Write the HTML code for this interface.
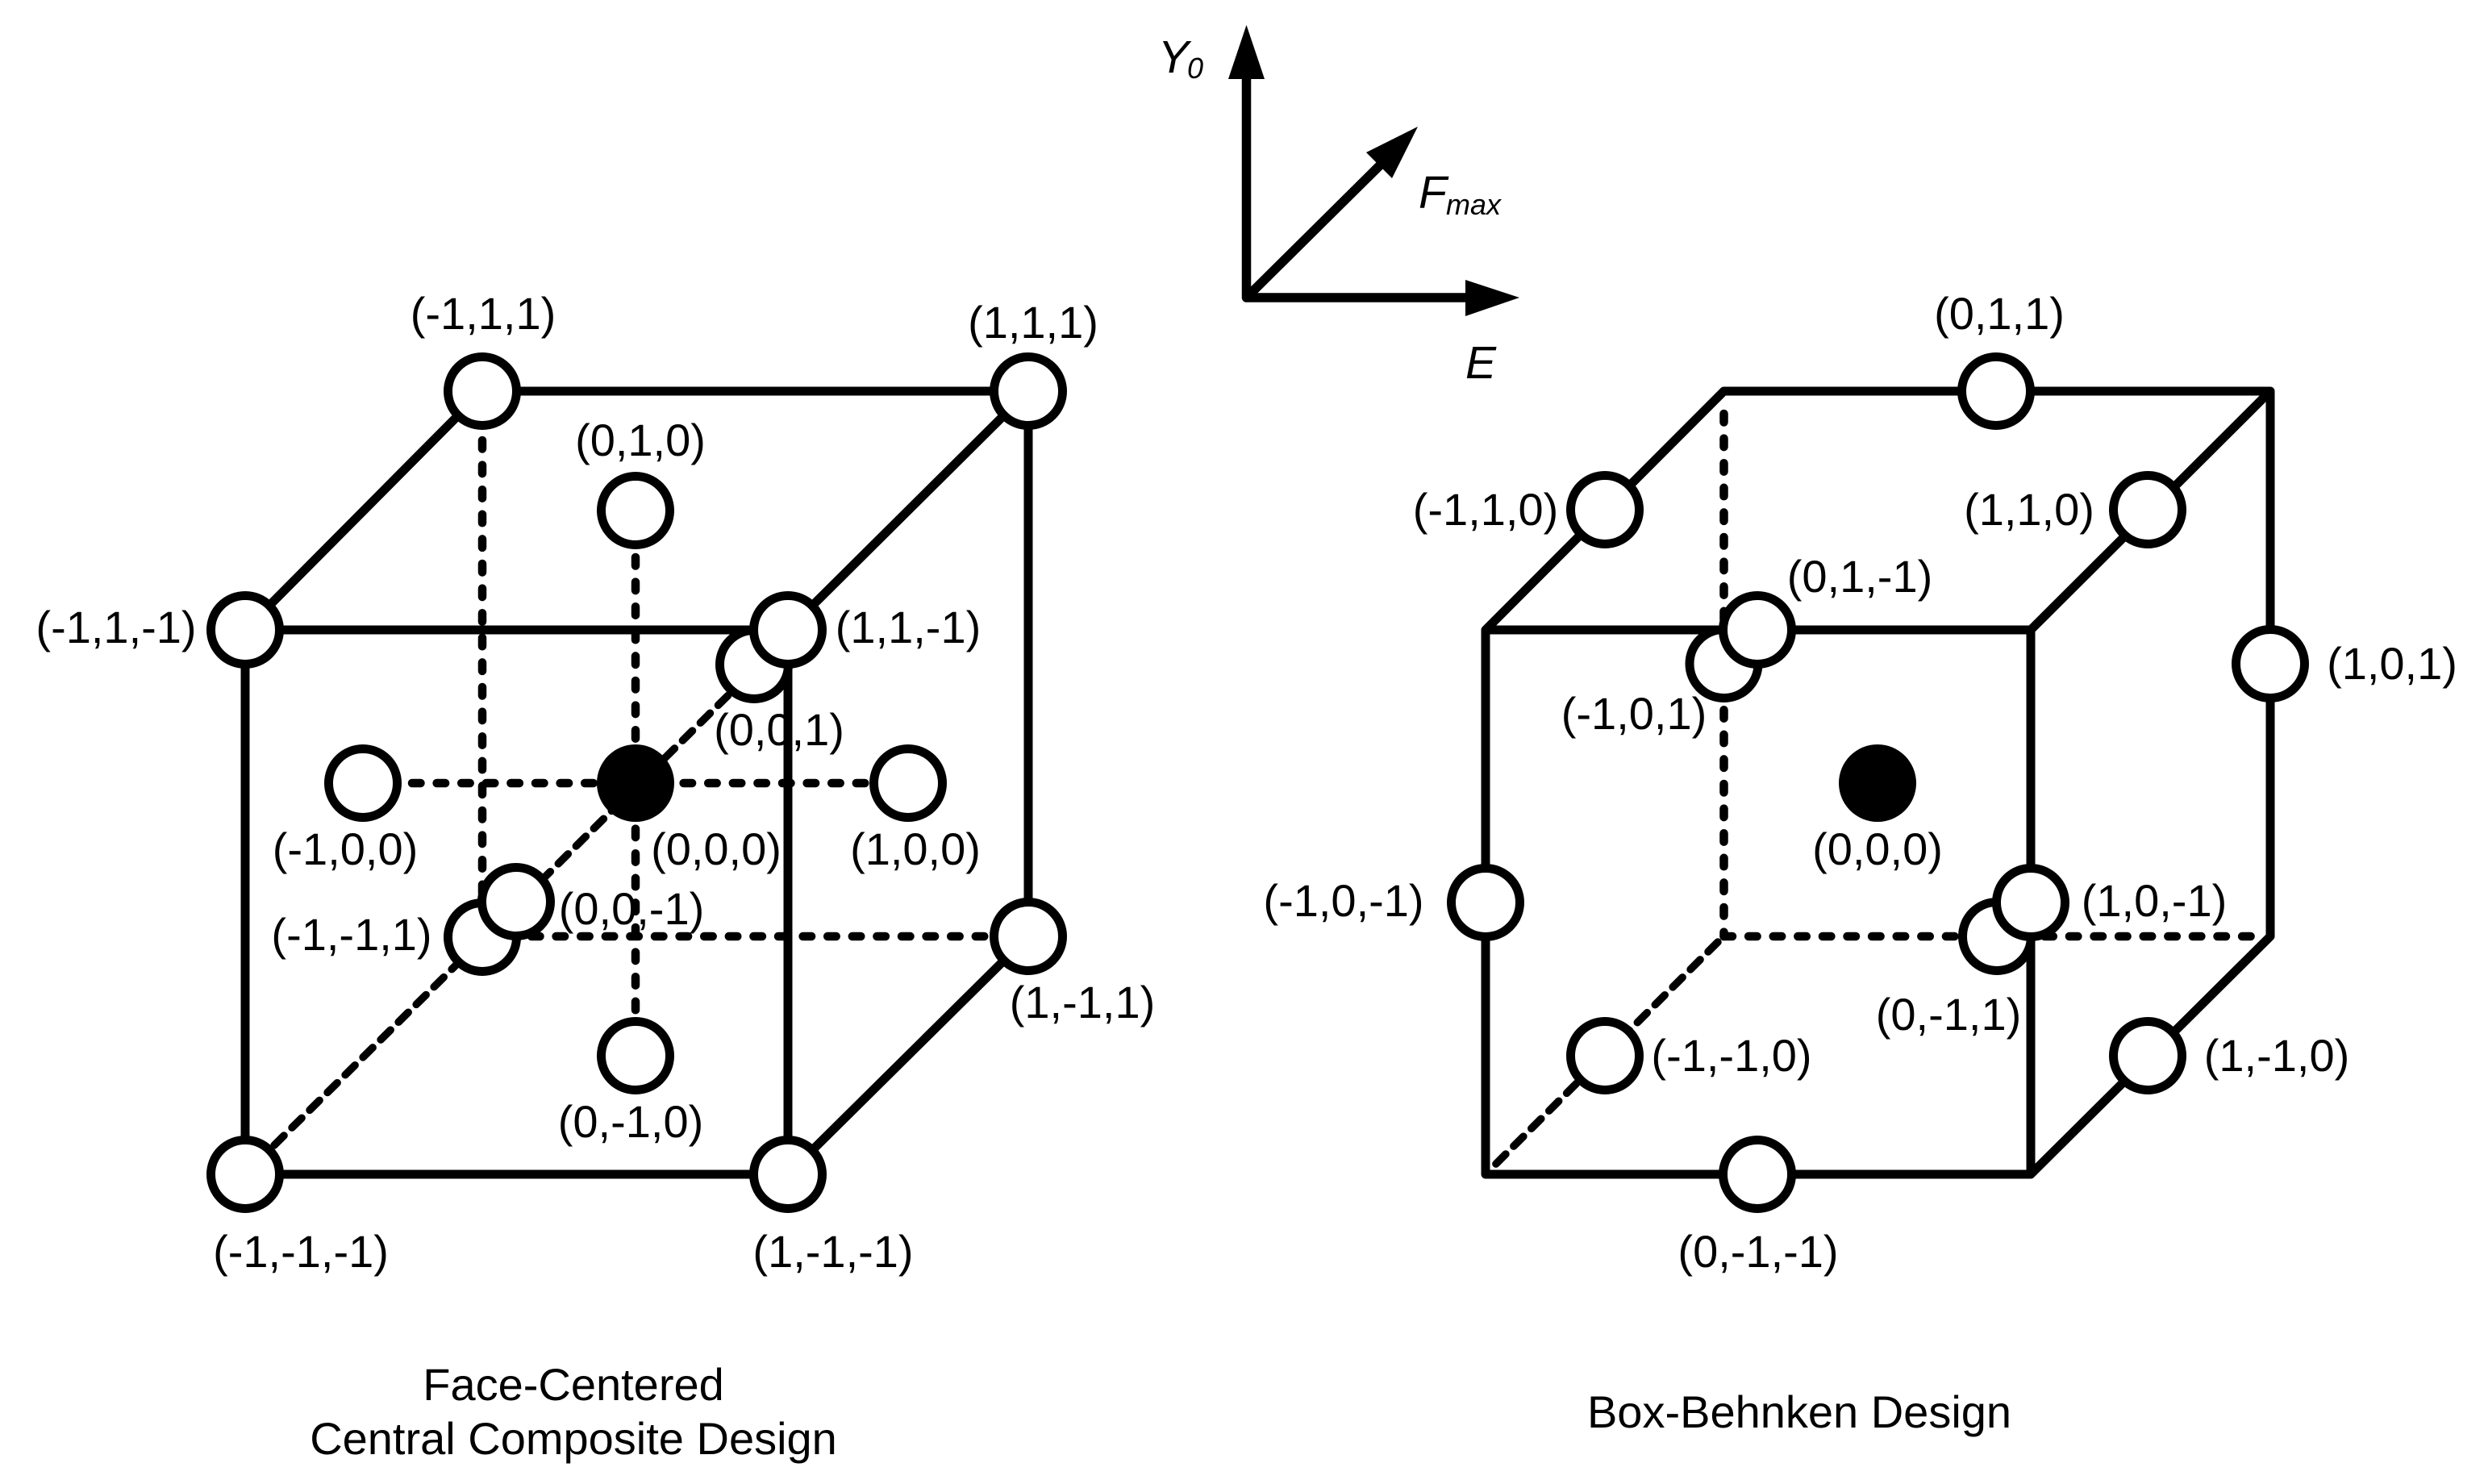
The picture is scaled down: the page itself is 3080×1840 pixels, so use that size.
<!DOCTYPE html>
<html><head><meta charset="utf-8"><title>Face-Centered and Box-Behnken Designs</title>
<style>
html,body{margin:0;padding:0;background:#fff;width:3080px;height:1840px;overflow:hidden}
svg{display:block}
text{font-family:"Liberation Sans",Arial,sans-serif;font-size:56px;fill:#000;text-anchor:middle}
.i{font-style:italic;text-anchor:start;font-size:57px}
.s{font-style:italic;text-anchor:start;font-size:36px}
.so{fill:none;stroke:#000;stroke-width:11;stroke-linejoin:round;stroke-linecap:round}
.dv{fill:none;stroke:#000;stroke-width:10.5;stroke-dasharray:10.5 20.1;stroke-linecap:round}
.dd{fill:none;stroke:#000;stroke-width:9.5;stroke-dasharray:17 14;stroke-linecap:round}
.n{fill:#fff;stroke:#000;stroke-width:11}
.b{fill:#000}
</style></head><body>
<svg width="3080" height="1840" viewBox="0 0 3080 1840" xmlns="http://www.w3.org/2000/svg">
<rect width="3080" height="1840" fill="#fff"/>

<!-- axes -->
<path class="so" style="stroke-width:11.5" d="M1545.5 90V369H1825M1545.5 369L1712 204"/>
<polygon points="1545.5,31 1523,98 1568,98"/>
<polygon points="1884,369 1817,347 1817,392"/>
<polygon points="1758,157 1694,189 1726,221"/>
<text class="i" x="1436" y="90">Y</text><text class="s" x="1472" y="97">0</text>
<text class="i" x="1759" y="258">F</text><text class="s" x="1793" y="266">max</text>
<text class="i" x="1817" y="469">E</text>

<!-- left cube -->
<path class="dv" d="M598 546V1161"/>
<path class="dv" d="M788 691V1258"/>
<path class="dv" d="M511 971H1075"/>
<path class="dv" d="M659 1161H1225"/>
<path class="dd" d="M340 1420L905 860"/>
<path class="so" d="M304 781H977V1456H304ZM304 781L598 485H1275V1161L977 1456M977 781L1275 485"/>
<circle class="n" cx="598" cy="1162" r="42.5"/>
<circle class="n" cx="640" cy="1118" r="42.5"/>
<circle class="n" cx="935" cy="824" r="42.5"/>
<circle class="n" cx="977" cy="781" r="42.5"/>
<circle class="n" cx="304" cy="781" r="42.5"/>
<circle class="n" cx="598" cy="485" r="42.5"/>
<circle class="n" cx="1275" cy="485" r="42.5"/>
<circle class="n" cx="788" cy="633" r="42.5"/>
<circle class="n" cx="450" cy="971" r="42.5"/>
<circle class="n" cx="1126" cy="971" r="42.5"/>
<circle class="n" cx="788" cy="1309" r="42.5"/>
<circle class="n" cx="1275" cy="1161" r="42.5"/>
<circle class="n" cx="304" cy="1456" r="42.5"/>
<circle class="n" cx="977" cy="1456" r="42.5"/>
<circle class="b" cx="788" cy="971" r="48"/>

<text x="599" y="408">(-1,1,1)</text>
<text x="1281" y="419">(1,1,1)</text>
<text x="794" y="565">(0,1,0)</text>
<text x="144" y="797">(-1,1,-1)</text>
<text x="1126" y="797">(1,1,-1)</text>
<text x="966" y="924">(0,0,1)</text>
<text x="428" y="1072">(-1,0,0)</text>
<text x="888" y="1072">(0,0,0)</text>
<text x="1135" y="1072">(1,0,0)</text>
<text x="783" y="1146">(0,0,-1)</text>
<text x="436" y="1178">(-1,-1,1)</text>
<text x="1342" y="1262">(1,-1,1)</text>
<text x="782" y="1410">(0,-1,0)</text>
<text x="373" y="1571">(-1,-1,-1)</text>
<text x="1033" y="1571">(1,-1,-1)</text>
<text x="711" y="1736">Face-Centered</text>
<text x="711" y="1803">Central Composite Design</text>

<!-- right cube -->
<path class="dv" d="M2137.5 513V1161"/>
<path class="dv" d="M2137.5 1161H2810"/>
<path class="dd" d="M2130 1168L1850 1448"/>
<path class="so" d="M1842 781H2518V1456H1842ZM1842 781L2137.5 485H2815V1161L2518 1456M2518 781L2815 485"/>
<circle class="n" cx="2137.5" cy="823" r="42.5"/>
<circle class="n" cx="2179" cy="781" r="42.5"/>
<circle class="n" cx="2476" cy="1161" r="42.5"/>
<circle class="n" cx="2518" cy="1119" r="42.5"/>
<circle class="n" cx="2475" cy="485" r="42.5"/>
<circle class="n" cx="1990" cy="632" r="42.5"/>
<circle class="n" cx="2663" cy="632" r="42.5"/>
<circle class="n" cx="2815" cy="823" r="42.5"/>
<circle class="n" cx="1842" cy="1119" r="42.5"/>
<circle class="n" cx="1990" cy="1309" r="42.5"/>
<circle class="n" cx="2663" cy="1309" r="42.5"/>
<circle class="n" cx="2179" cy="1456" r="42.5"/>
<circle class="b" cx="2328" cy="971" r="48"/>

<text x="2479" y="408">(0,1,1)</text>
<text x="1842" y="651">(-1,1,0)</text>
<text x="2516" y="651">(1,1,0)</text>
<text x="2306" y="734">(0,1,-1)</text>
<text x="2966" y="842">(1,0,1)</text>
<text x="2026" y="904">(-1,0,1)</text>
<text x="2328" y="1072">(0,0,0)</text>
<text x="1666" y="1136">(-1,0,-1)</text>
<text x="2671" y="1136">(1,0,-1)</text>
<text x="2416" y="1277">(0,-1,1)</text>
<text x="2147" y="1328">(-1,-1,0)</text>
<text x="2823" y="1328">(1,-1,0)</text>
<text x="2180" y="1571">(0,-1,-1)</text>
<text x="2231" y="1770">Box-Behnken Design</text>
</svg>
</body></html>
